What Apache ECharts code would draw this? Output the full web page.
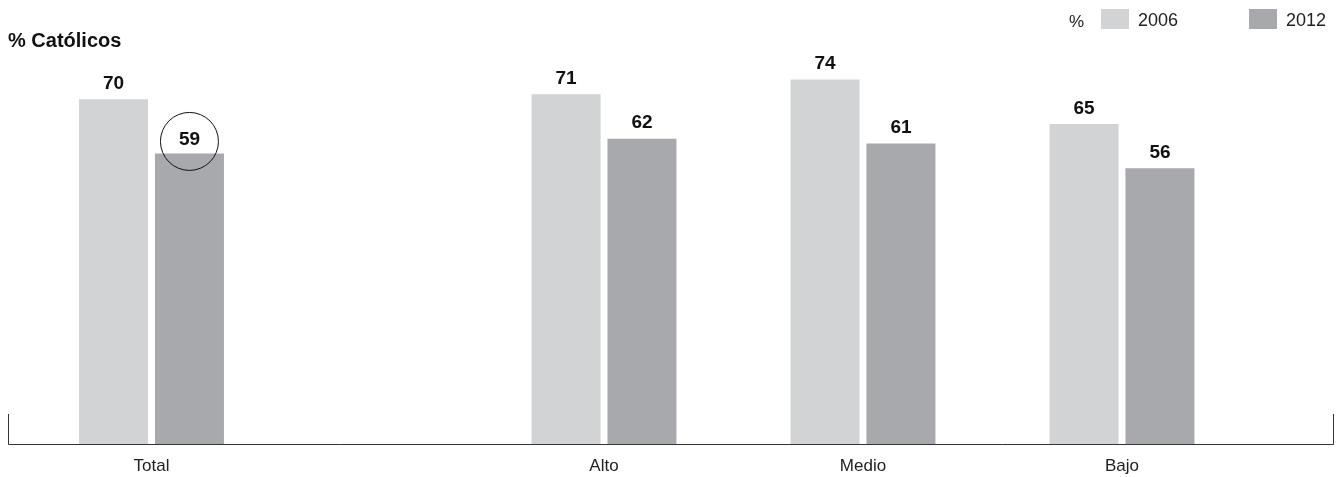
<!DOCTYPE html>
<html>
<head>
<meta charset="utf-8">
<script src="https://cdn.jsdelivr.net/npm/echarts@6/dist/echarts.min.js"></script>
<style>
html,body{margin:0;padding:0;background:#fff;}
#chart{width:1342px;height:477px;}
</style>
</head>
<body>
<div id="chart"></div>
<script>
const categories = ['Total', 'Alto', 'Medio', 'Bajo'];
const values2006 = [70, 71, 74, 65];
const values2012 = [59, 62, 61, 56];
const seriesNames = ['2006', '2012'];
const titleText = '% Católicos';

const FONT = '"Liberation Sans", Arial, sans-serif';
const C2006 = '#d1d3d4';
const C2012 = '#a7a9ac';

const labelStyle = {
  show: true, position: 'top', distance: 6,
  fontFamily: FONT, fontWeight: 'bold', fontSize: 19, color: '#111'
};

function mk(name, color, data, gi, circleIdx) {
  return {
    name: name, type: 'bar', xAxisIndex: gi, yAxisIndex: gi,
    barWidth: 69, barGap: '10%',
    itemStyle: { color: color },
    label: labelStyle,
    data: data.map((v, i) => {
      if (i === circleIdx) {
        return {
          value: v,
          label: {
            show: true, position: 'top', distance: 0, offset: [0, 17],
            width: 58, height: 55, lineHeight: 55, padding: [0, 0, 3, 0], align: 'center',
            borderColor: '#111', borderWidth: 1, borderRadius: 29,
            fontFamily: FONT, fontWeight: 'bold', fontSize: 19, color: '#111'
          }
        };
      }
      return v;
    }),
    emphasis: { disabled: true }
  };
}

const xAxisBase = {
  type: 'category',
  axisLine: { show: false }, axisTick: { show: false },
  axisLabel: { fontFamily: FONT, fontSize: 17, color: '#222', margin: 14 }
};
const yAxisBase = { type: 'value', min: 0, max: 80, show: false, splitLine: { show: false } };

const chart = echarts.init(document.getElementById('chart'), null, { renderer: 'canvas' });
chart.setOption({
  animation: false,
  backgroundColor: '#fff',
  grid: [
    { left: 8, width: 287, top: 50, bottom: 33 },
    { left: 474.5, width: 777, top: 50, bottom: 33 }
  ],
  xAxis: [
    Object.assign({}, xAxisBase, { gridIndex: 0, data: categories.slice(0, 1) }),
    Object.assign({}, xAxisBase, { gridIndex: 1, data: categories.slice(1) })
  ],
  yAxis: [
    Object.assign({}, yAxisBase, { gridIndex: 0 }),
    Object.assign({}, yAxisBase, { gridIndex: 1 })
  ],
  legend: {
    data: seriesNames, left: 1096, top: 4,
    icon: 'rect', itemWidth: 28, itemHeight: 20, itemGap: 71,
    formatter: '{t|{name}}',
    textStyle: {
      fontFamily: FONT, fontSize: 18, color: '#222', width: 48,
      rich: { t: { fontFamily: FONT, fontSize: 18, color: '#222', padding: [5, 0, 0, 4] } }
    },
    selectedMode: false
  },
  graphic: [
    { type: 'text', left: 8, top: 31, style: { text: titleText, fontFamily: FONT, fontWeight: 'bold', fontSize: 20, fill: '#111' } },
    { type: 'text', left: 1069, top: 14, style: { text: '%', fontFamily: FONT, fontSize: 17, fill: '#222' } },
    { type: 'line', shape: { x1: 8.5, y1: 444.5, x2: 1333.5, y2: 444.5 }, style: { stroke: '#333', lineWidth: 1 } },
    { type: 'line', shape: { x1: 8.5, y1: 414, x2: 8.5, y2: 444.5 }, style: { stroke: '#333', lineWidth: 1 } },
    { type: 'line', shape: { x1: 1333.5, y1: 414, x2: 1333.5, y2: 444.5 }, style: { stroke: '#333', lineWidth: 1 } }
  ],
  series: [
    mk(seriesNames[0], C2006, values2006.slice(0, 1), 0, -1),
    mk(seriesNames[1], C2012, values2012.slice(0, 1), 0, 0),
    mk(seriesNames[0], C2006, values2006.slice(1), 1, -1),
    mk(seriesNames[1], C2012, values2012.slice(1), 1, -1)
  ]
});
</script>
</body>
</html>
